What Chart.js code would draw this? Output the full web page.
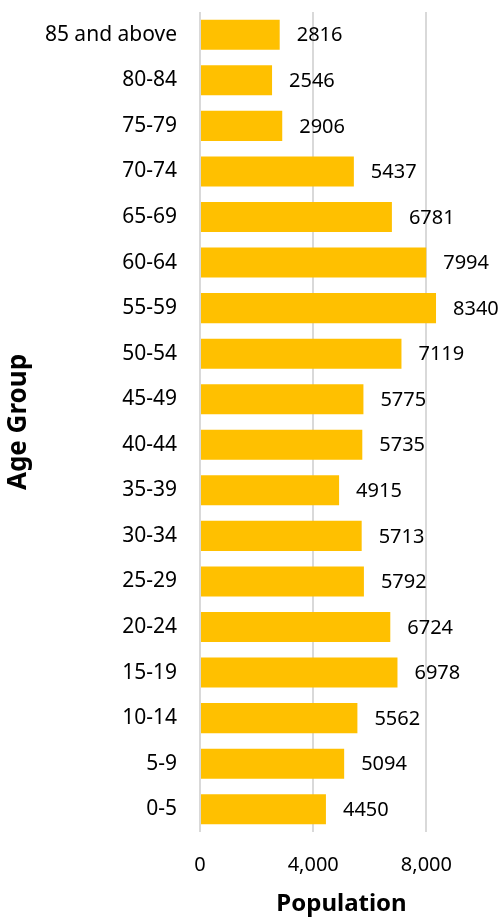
<!DOCTYPE html>
<html>
<head>
<meta charset="utf-8">
<script src="https://cdn.jsdelivr.net/npm/chart.js@4"></script>
<style>
  html, body { margin:0; padding:0; background:#fff; }
  #wrap { width:500px; height:918px; position:relative; }
</style>
</head>
<body>
<div id="wrap"><canvas id="chart"></canvas></div>
<script>
// Data (top to bottom as shown)
const ageGroups = ['85 and above','80-84','75-79','70-74','65-69','60-64','55-59','50-54','45-49','40-44','35-39','30-34','25-29','20-24','15-19','10-14','5-9','0-5']
const population = [2816,2546,2906,5437,6781,7994,8340,7119,5775,5735,4915,5713,5792,6724,6978,5562,5094,4450]
const xTicks = [0,4000,8000]

const FONT = '"Noto Sans", sans-serif'

// value labels to the right of each bar
const valueLabels = {
  id:'valueLabels',
  afterDatasetsDraw(chart){
    const ctx = chart.ctx
    const meta = chart.getDatasetMeta(0)
    ctx.save()
    ctx.font = '20px ' + FONT
    ctx.fillStyle = '#000'
    ctx.textAlign = 'left'
    ctx.textBaseline = 'middle'
    meta.data.forEach((bar,i)=>{
      ctx.fillText(String(population[i]), bar.x + 17, bar.y + 1)
    })
    ctx.restore()
  }
}

new Chart(document.getElementById('chart'), {
  type:'bar',
  data:{
    labels: ageGroups,
    datasets:[{ data: population, backgroundColor:'#FFC000', borderWidth:0, barPercentage:0.66, categoryPercentage:1 }]
  },
  options:{
    indexAxis:'y',
    responsive:true,
    maintainAspectRatio:false,
    animation:false,
    layout:{ padding:{ top:12, right:17, bottom:0, left:0 } },
    plugins:{ legend:{display:false}, tooltip:{enabled:false} },
    scales:{
      x:{
        min:0, max:10000,
        afterBuildTicks: s => { s.ticks = xTicks.map(v=>({value:v})) },
        afterFit: s => { s.height = 86; s.paddingLeft = 0; s.paddingRight = 0 },
        grid:{ color:'#d9d9d9', lineWidth:2, drawTicks:false },
        border:{ display:false },
        ticks:{ font:{ family:FONT, size:20 }, color:'#000', padding:21,
          callback: v => v.toLocaleString('en-US') },
        title:{ display:true, text:'Population', font:{ family:FONT, size:24, weight:'bold', lineHeight:1 }, color:'#000', padding:{top:0,bottom:2} }
      },
      y:{
        afterFit: s => { s.width = 200; s.paddingTop = 0; s.paddingBottom = 0 },
        grid:{ display:false },
        border:{ display:false },
        ticks:{ font:{ family:FONT, size:21 }, color:'#000', padding:15, autoSkip:false },
        title:{ display:true, text:'Age Group', font:{ family:FONT, size:26, weight:'bold' }, color:'#000', padding:{top:3,bottom:0} }
      }
    }
  },
  plugins:[valueLabels]
})
</script>
</body>
</html>
